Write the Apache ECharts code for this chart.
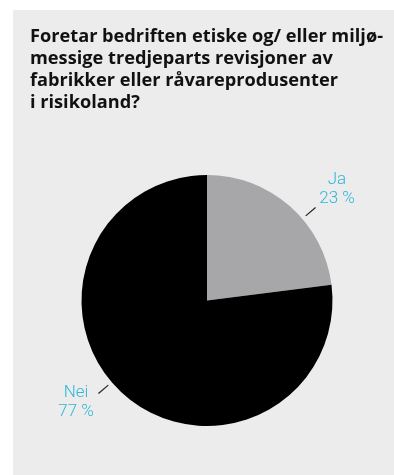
<!DOCTYPE html>
<html>
<head>
<meta charset="utf-8">
<script src="https://cdn.jsdelivr.net/npm/echarts@6/dist/echarts.min.js"></script>
<style>
  html, body { margin: 0; padding: 0; background: #ffffff; }
  #chart { width: 394px; height: 475px; }
</style>
</head>
<body>
<div id="chart"></div>
<script>
// Survey answer: third-party ethical/environmental audits in risk countries
const titleLines = [
  'Foretar bedriften etiske og/ eller miljø-',
  'messige tredjeparts revisjoner av',
  'fabrikker eller råvareprodusenter',
  'i risikoland?'
];
const categories = ['Ja', 'Nei'];
const shares = [23, 77];
const sliceColors = ['#a7a7a9', '#000000'];

// pie geometry and label placement
const PIE_CX = 207, PIE_CY = 300.5, PIE_R = 125.5;
const labelSpots = [[337, 189], [76, 402]];
const leaderAngles = [49.4, 229.4];   // degrees, clockwise from 12 o'clock
const LEADER_FROM = 130, LEADER_TO = 143;

function polar(angleDeg, r) {
  const a = angleDeg * Math.PI / 180;
  return [PIE_CX + r * Math.sin(a), PIE_CY - r * Math.cos(a)];
}

const chart = echarts.init(document.getElementById('chart'), null, { renderer: 'canvas' });

chart.setOption({
  animation: false,
  backgroundColor: '#ffffff',
  graphic: [
    {
      type: 'rect',
      z: -10,
      shape: { x: 13, y: 10, width: 381, height: 465 },
      style: { fill: '#ececec' }
    }
  ],
  title: {
    text: titleLines.join('\n'),
    left: 30,
    top: 26,
    padding: 0,
    textStyle: {
      fontFamily: 'Open Sans',
      fontWeight: 'bold',
      fontSize: 18.2,
      lineHeight: 22,
      color: '#111111'
    }
  },
  series: [
    {
      type: 'pie',
      center: [PIE_CX, PIE_CY],
      radius: [0, PIE_R],
      startAngle: 90,
      clockwise: true,
      silent: true,
      data: categories.map((name, i) => ({
        name: name,
        value: shares[i],
        itemStyle: { color: sliceColors[i] }
      })),
      label: {
        show: true,
        position: 'outside',
        formatter: p => p.name + '\n' + p.value + ' %',
        fontFamily: 'Roboto',
        fontWeight: 300,
        fontSize: 17,
        lineHeight: 19,
        color: '#2fb6d9',
        align: 'center'
      },
      labelLine: {
        show: true,
        length: 10,
        length2: 0,
        lineStyle: { color: '#222222', width: 1.2 }
      },
      labelLayout: p => ({
        x: labelSpots[p.dataIndex][0],
        y: labelSpots[p.dataIndex][1],
        align: 'center',
        verticalAlign: 'middle',
        labelLinePoints: [
          polar(leaderAngles[p.dataIndex], LEADER_FROM),
          polar(leaderAngles[p.dataIndex], LEADER_TO)
        ]
      })
    }
  ]
});
</script>
</body>
</html>
